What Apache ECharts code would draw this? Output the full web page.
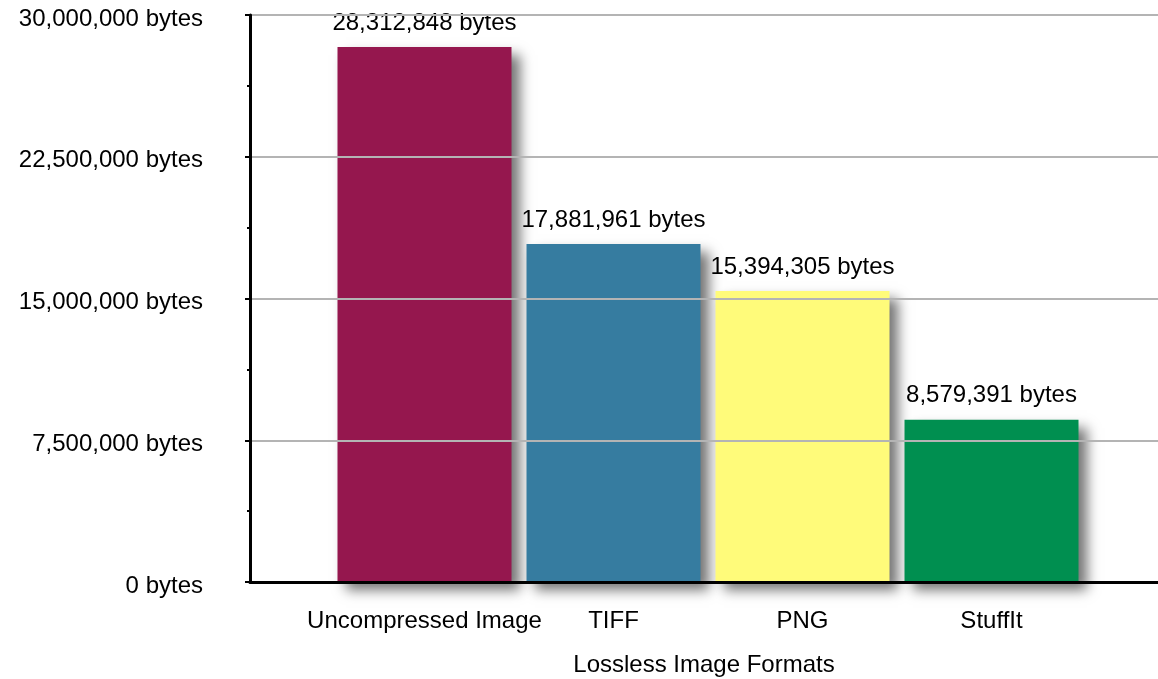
<!DOCTYPE html>
<html>
<head>
<meta charset="utf-8">
<script src="https://cdn.jsdelivr.net/npm/echarts@6/dist/echarts.min.js"></script>
<style>
    html, body { margin: 0; padding: 0; background: #fff; }
    #chart { width: 1158px; height: 679px; }
</style>
</head>
<body>
<div id="chart"></div>
<script>
    var categories = ['Uncompressed Image', 'TIFF', 'PNG', 'StuffIt'];
    var sizes = [28312848, 17881961, 15394305, 8579391];
    var barColors = ['#95174e', '#367ca0', '#fffb7a', '#008f50'];
    var yTicks = [0, 7500000, 15000000, 22500000, 30000000];

    function bytes(v) {
        return Number(v).toLocaleString('en-US') + ' bytes';
    }

    var font = 'Liberation Sans, Arial, Helvetica, sans-serif';
    var fs = 24;
    var chart = echarts.init(document.getElementById('chart'));

    chart.setOption({
        animation: false,
        textStyle: { fontFamily: font },
        grid: [
            { left: 250, right: 0, top: 15, bottom: 97, outerBoundsMode: 'none', containLabel: false },
            { left: 330, width: 756, top: 15, bottom: 97, outerBoundsMode: 'none', containLabel: false }
        ],
        xAxis: [
            {
                type: 'value',
                gridIndex: 0,
                min: 0,
                max: 1,
                z: 5,
                name: 'Lossless Image Formats',
                nameLocation: 'middle',
                nameGap: 71,
                nameTextStyle: { color: '#000', fontSize: fs, fontFamily: font },
                axisLine: { show: true, onZero: false, lineStyle: { color: '#000', width: 3 } },
                axisTick: { show: false },
                axisLabel: { show: false },
                splitLine: { show: false }
            },
            {
                type: 'category',
                gridIndex: 1,
                data: categories,
                axisLine: { show: false },
                axisTick: { show: false },
                axisLabel: { color: '#000', fontSize: fs, margin: 27, interval: 0, fontFamily: font }
            }
        ],
        yAxis: [
            {
                type: 'value',
                gridIndex: 0,
                min: yTicks[0],
                max: yTicks[yTicks.length - 1],
                interval: yTicks[1] - yTicks[0],
                z: 5,
                axisLine: { show: true, lineStyle: { color: '#000', width: 3 } },
                axisTick: { show: true, length: 5, lineStyle: { color: '#000', width: 2 } },
                minorTick: { show: true, splitNumber: 2, length: 3, lineStyle: { color: '#000', width: 2 } },
                axisLabel: {
                    color: '#000',
                    fontSize: fs,
                    margin: 47,
                    fontFamily: font,
                    formatter: function (v) { return '{v|' + bytes(v) + '}'; },
                    rich: {
                        v: { color: '#000', fontSize: fs, fontFamily: font, padding: [8, 0, 0, 0] }
                    }
                },
                splitLine: { show: true, lineStyle: { color: '#b4b4b4', width: 2 } }
            },
            {
                type: 'value',
                gridIndex: 1,
                min: yTicks[0],
                max: yTicks[yTicks.length - 1],
                show: false
            }
        ],
        series: [
            {
                type: 'bar',
                xAxisIndex: 1,
                yAxisIndex: 1,
                barWidth: 174,
                data: sizes.map(function (v, i) {
                    return { value: v, itemStyle: { color: barColors[i] } };
                }),
                itemStyle: {
                    shadowColor: 'rgba(0,0,0,0.55)',
                    shadowBlur: 12,
                    shadowOffsetX: 8,
                    shadowOffsetY: 8
                },
                label: {
                    show: true,
                    position: 'top',
                    distance: 12,
                    color: '#000',
                    fontSize: fs,
                    fontFamily: font,
                    formatter: function (p) { return bytes(p.value); }
                }
            }
        ]
    });
</script>
</body>
</html>
